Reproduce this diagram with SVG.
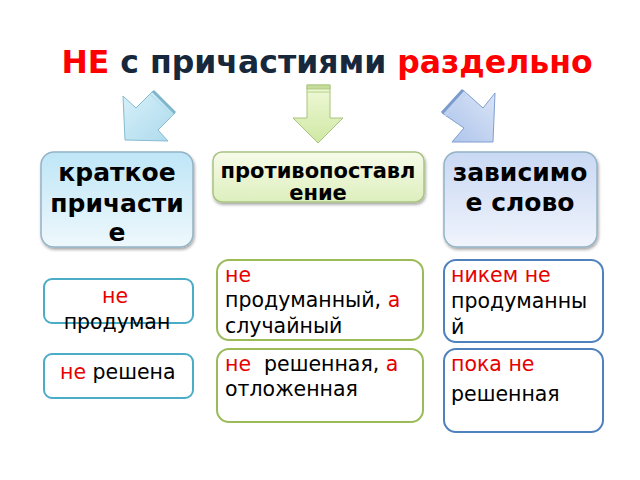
<svg xmlns="http://www.w3.org/2000/svg" width="640" height="480" viewBox="0 0 640 480">
<defs>
<linearGradient id="gBlueL" x1="0" y1="0" x2="0" y2="1"><stop offset="0" stop-color="#bfe6f7"/><stop offset="1" stop-color="#eef8fc"/></linearGradient>
<linearGradient id="gGreen" x1="0" y1="0" x2="0" y2="1"><stop offset="0" stop-color="#f6fbe9"/><stop offset="1" stop-color="#ddefbd"/></linearGradient>
<linearGradient id="gPeri" x1="0" y1="0" x2="0" y2="1"><stop offset="0" stop-color="#c9d8f3"/><stop offset="1" stop-color="#f0f4fc"/></linearGradient>
<linearGradient id="aBlue" x1="0" y1="0" x2="1" y2="1"><stop offset="0" stop-color="#d8f1fa"/><stop offset="1" stop-color="#acd9ec"/></linearGradient>
<linearGradient id="aGreen" x1="0" y1="0" x2="0" y2="1"><stop offset="0" stop-color="#f0f9d8"/><stop offset="1" stop-color="#cfe8a4"/></linearGradient>
<linearGradient id="aPeri" x1="1" y1="0" x2="0" y2="1"><stop offset="0" stop-color="#dbe5f7"/><stop offset="1" stop-color="#aac2ea"/></linearGradient>
<filter id="sh" x="-10%" y="-10%" width="130%" height="130%"><feDropShadow dx="1" dy="2" stdDeviation="1.5" flood-color="#000" flood-opacity="0.35"/></filter>
</defs>
<style>
text{font-family:"DejaVu Sans","Liberation Sans",sans-serif;}
.t{font-size:20.5px;fill:#000;}
.r{fill:#e60000;}
.b{font-weight:bold;fill:#000;}
.big{stroke:#93b3c6;stroke-width:1.5;filter:url(#sh);}
.sm{fill:#fff;stroke-width:2;}
</style>
<rect width="640" height="480" fill="#fff"/>
<text x="327" y="73" text-anchor="middle" font-size="31.5" font-weight="bold" fill="#17283c"><tspan fill="#ff0000">НЕ</tspan> с причастиями <tspan fill="#ff0000">раздельно</tspan></text>
<g id="connectors">
<g id="arrowLeft">
<polygon points="125,140 123,96 136,108 153,91 175,113 158,130 168,141" fill="url(#aBlue)" stroke="#86bcd0" stroke-width="1"/>
<line x1="153" y1="91" x2="175" y2="113" stroke="#7fb6cc" stroke-width="3"/>
<line x1="150" y1="94" x2="172" y2="116" stroke="#b8e0ee" stroke-width="1.5"/>
</g>
<g id="arrowCenter">
<polygon points="307,85 330,85 330,118 343,118 318,143 293,118 307,118" fill="url(#aGreen)" stroke="#a8c47c" stroke-width="1"/>
<rect x="307" y="85" width="23" height="4" fill="#c5dc9a" stroke="#a8c47c" stroke-width="0.8"/>
<line x1="307" y1="92" x2="330" y2="92" stroke="#b6d18a" stroke-width="1"/>
</g>
<g id="arrowRight">
<polygon points="493,142 495,93 483,108 463,90 442,113 464,128 452,142" fill="url(#aPeri)" stroke="#7f9fd0" stroke-width="1"/>
<line x1="463" y1="90" x2="442" y2="113" stroke="#7b9bcc" stroke-width="3"/>
<line x1="466" y1="93" x2="445" y2="116" stroke="#c2d4f0" stroke-width="1.5"/>
</g>
</g>
<g id="node-kratkoe">
<rect x="41" y="152" width="152" height="95" rx="13" fill="url(#gBlueL)" class="big"/>
<text class="b" font-size="25" text-anchor="middle"><tspan x="117" y="181">краткое</tspan><tspan x="117" y="212">причасти</tspan><tspan x="117" y="241">е</tspan></text>
</g>
<g id="node-protiv">
<rect x="213" y="152" width="211" height="50" rx="9" fill="url(#gGreen)" stroke="#a9c382" stroke-width="1.5" filter="url(#sh)"/>
<text class="b" font-size="21" text-anchor="middle"><tspan x="318" y="178">противопоставл</tspan><tspan x="318" y="200">ение</tspan></text>
</g>
<g id="node-zavis">
<rect x="444" y="152" width="153" height="95" rx="13" fill="url(#gPeri)" class="big" stroke="#8ea6c6"/>
<text class="b" font-size="25" text-anchor="middle"><tspan x="520" y="181">зависимо</tspan><tspan x="520" y="211">е слово</tspan></text>
</g>
<g id="node-neprodum">
<rect x="44" y="279" width="149" height="44" rx="8" class="sm" stroke="#4bacc6"/>
<text class="t" text-anchor="middle"><tspan x="115" y="303" class="r">не</tspan><tspan x="117" y="329">продуман</tspan></text>
</g>
<g id="node-nereshena">
<rect x="44" y="354" width="149" height="44" rx="8" class="sm" stroke="#4bacc6"/>
<text class="t" x="60" y="379"><tspan class="r">не</tspan> решена</text>
</g>
<g id="node-produmanny">
<rect x="217" y="260" width="206" height="80" rx="12" class="sm" stroke="#9bbb59"/>
<text class="t"><tspan x="225" y="282" class="r">не</tspan><tspan x="225" y="307">продуманный, <tspan class="r">а</tspan></tspan><tspan x="225" y="333">случайный</tspan></text>
</g>
<g id="node-reshennaya">
<rect x="217" y="349" width="206" height="73" rx="12" class="sm" stroke="#9bbb59"/>
<text class="t" xml:space="preserve"><tspan x="225" y="371"><tspan class="r">не</tspan>  решенная, <tspan class="r">а</tspan></tspan><tspan x="225" y="396">отложенная</tspan></text>
</g>
<g id="node-nikem">
<rect x="444" y="260" width="159" height="82" rx="12" class="sm" stroke="#4f81bd"/>
<text class="t"><tspan x="451" y="282" class="r">никем не</tspan><tspan x="451" y="308">продуманны</tspan><tspan x="451" y="334">й</tspan></text>
</g>
<g id="node-poka">
<rect x="444" y="349" width="159" height="83" rx="12" class="sm" stroke="#4f81bd"/>
<text class="t"><tspan x="451" y="371" class="r">пока не</tspan><tspan x="451" y="401">решенная</tspan></text>
</g>
</svg>
